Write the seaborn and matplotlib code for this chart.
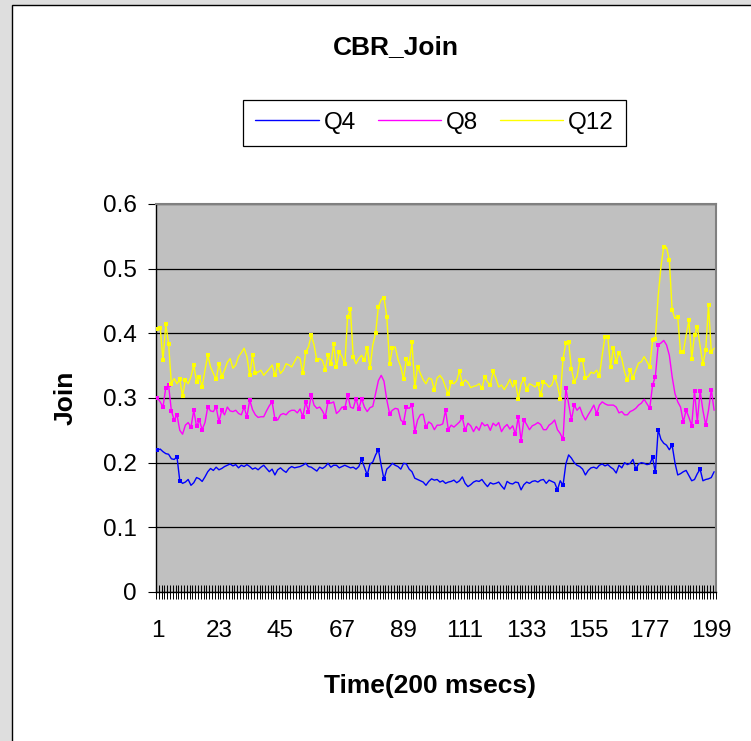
import numpy as np
import pandas as pd
import matplotlib
matplotlib.use("Agg")
import matplotlib.pyplot as plt
from matplotlib.patches import Rectangle
import seaborn as sns

# ---- data -------------------------------------------------------------
time_idx = list(range(1, 201))

q4 = [
    0.219, 0.221, 0.217, 0.214, 0.213, 0.206, 0.205, 0.209, 0.172, 0.168,
    0.170, 0.174, 0.165, 0.169, 0.177, 0.175, 0.171, 0.178, 0.186, 0.191,
    0.188, 0.193, 0.189, 0.191, 0.194, 0.196, 0.198, 0.195, 0.197, 0.192,
    0.196, 0.194, 0.197, 0.194, 0.190, 0.192, 0.189, 0.193, 0.196, 0.191,
    0.186, 0.190, 0.181, 0.189, 0.192, 0.188, 0.185, 0.191, 0.194, 0.192,
    0.193, 0.194, 0.196, 0.199, 0.194, 0.193, 0.190, 0.187, 0.193, 0.191,
    0.194, 0.199, 0.193, 0.196, 0.196, 0.192, 0.194, 0.196, 0.194, 0.192,
    0.193, 0.190, 0.194, 0.205, 0.193, 0.181, 0.198, 0.201, 0.212, 0.220,
    0.196, 0.174, 0.190, 0.194, 0.199, 0.196, 0.194, 0.190, 0.199, 0.198,
    0.190, 0.186, 0.176, 0.174, 0.172, 0.170, 0.165, 0.171, 0.175, 0.173,
    0.174, 0.170, 0.172, 0.168, 0.170, 0.171, 0.173, 0.169, 0.172, 0.178,
    0.168, 0.163, 0.166, 0.170, 0.172, 0.171, 0.174, 0.168, 0.163, 0.169,
    0.167, 0.168, 0.170, 0.164, 0.159, 0.171, 0.168, 0.167, 0.170, 0.169,
    0.158, 0.166, 0.170, 0.168, 0.171, 0.172, 0.170, 0.173, 0.174, 0.168,
    0.173, 0.171, 0.169, 0.158, 0.172, 0.165, 0.198, 0.212, 0.207, 0.200,
    0.196, 0.194, 0.190, 0.181, 0.188, 0.192, 0.193, 0.191, 0.196, 0.198,
    0.195, 0.197, 0.193, 0.190, 0.184, 0.196, 0.192, 0.200, 0.197, 0.199,
    0.205, 0.190, 0.198, 0.200, 0.199, 0.197, 0.198, 0.208, 0.185, 0.251,
    0.236, 0.230, 0.227, 0.220, 0.227, 0.200, 0.181, 0.183, 0.186, 0.188,
    0.180, 0.172, 0.174, 0.183, 0.190, 0.172, 0.174, 0.175, 0.177, 0.186,
]

q8 = [
    0.300, 0.294, 0.286, 0.316, 0.320, 0.280, 0.266, 0.274, 0.250, 0.244,
    0.258, 0.262, 0.255, 0.281, 0.256, 0.266, 0.251, 0.262, 0.286, 0.280,
    0.279, 0.286, 0.263, 0.281, 0.274, 0.286, 0.280, 0.279, 0.281, 0.276,
    0.274, 0.286, 0.271, 0.297, 0.282, 0.274, 0.270, 0.271, 0.271, 0.280,
    0.288, 0.294, 0.268, 0.266, 0.274, 0.276, 0.274, 0.279, 0.281, 0.281,
    0.277, 0.283, 0.271, 0.294, 0.279, 0.305, 0.289, 0.284, 0.286, 0.280,
    0.271, 0.294, 0.292, 0.294, 0.276, 0.280, 0.286, 0.284, 0.305, 0.286,
    0.284, 0.299, 0.283, 0.299, 0.286, 0.279, 0.285, 0.287, 0.307, 0.327,
    0.335, 0.326, 0.297, 0.276, 0.281, 0.284, 0.283, 0.266, 0.262, 0.286,
    0.284, 0.289, 0.248, 0.266, 0.274, 0.275, 0.255, 0.263, 0.260, 0.251,
    0.258, 0.258, 0.260, 0.281, 0.251, 0.258, 0.255, 0.259, 0.263, 0.270,
    0.250, 0.261, 0.257, 0.248, 0.256, 0.250, 0.262, 0.257, 0.259, 0.250,
    0.261, 0.257, 0.262, 0.248, 0.255, 0.259, 0.252, 0.257, 0.244, 0.271,
    0.234, 0.266, 0.259, 0.251, 0.257, 0.259, 0.262, 0.259, 0.251, 0.251,
    0.258, 0.261, 0.266, 0.251, 0.245, 0.236, 0.315, 0.291, 0.266, 0.289,
    0.281, 0.286, 0.274, 0.266, 0.274, 0.281, 0.289, 0.276, 0.289, 0.294,
    0.291, 0.289, 0.289, 0.289, 0.286, 0.277, 0.279, 0.274, 0.274, 0.279,
    0.281, 0.284, 0.289, 0.292, 0.298, 0.291, 0.284, 0.320, 0.333, 0.382,
    0.385, 0.389, 0.382, 0.366, 0.333, 0.307, 0.294, 0.286, 0.263, 0.281,
    0.270, 0.257, 0.311, 0.263, 0.311, 0.281, 0.258, 0.281, 0.313, 0.281,
]

q12 = [
    0.407, 0.409, 0.358, 0.414, 0.384, 0.322, 0.330, 0.322, 0.329, 0.303,
    0.328, 0.322, 0.333, 0.351, 0.325, 0.333, 0.317, 0.343, 0.366, 0.348,
    0.338, 0.329, 0.353, 0.333, 0.343, 0.355, 0.361, 0.346, 0.351, 0.364,
    0.370, 0.377, 0.364, 0.335, 0.366, 0.338, 0.340, 0.343, 0.335, 0.340,
    0.345, 0.351, 0.335, 0.351, 0.338, 0.343, 0.353, 0.351, 0.348, 0.356,
    0.364, 0.361, 0.338, 0.371, 0.379, 0.397, 0.382, 0.358, 0.361, 0.358,
    0.344, 0.366, 0.353, 0.383, 0.348, 0.371, 0.364, 0.352, 0.426, 0.437,
    0.364, 0.353, 0.361, 0.366, 0.358, 0.378, 0.346, 0.382, 0.400, 0.441,
    0.452, 0.455, 0.426, 0.352, 0.377, 0.379, 0.360, 0.348, 0.329, 0.361,
    0.352, 0.386, 0.317, 0.348, 0.338, 0.328, 0.322, 0.331, 0.329, 0.312,
    0.331, 0.335, 0.329, 0.317, 0.306, 0.325, 0.322, 0.327, 0.342, 0.322,
    0.328, 0.324, 0.316, 0.318, 0.319, 0.322, 0.315, 0.333, 0.325, 0.320,
    0.341, 0.331, 0.317, 0.320, 0.313, 0.320, 0.329, 0.317, 0.325, 0.299,
    0.322, 0.329, 0.313, 0.322, 0.320, 0.317, 0.322, 0.304, 0.325, 0.322,
    0.317, 0.320, 0.333, 0.320, 0.299, 0.361, 0.385, 0.387, 0.345, 0.325,
    0.333, 0.358, 0.358, 0.331, 0.333, 0.340, 0.338, 0.343, 0.334, 0.366,
    0.395, 0.394, 0.348, 0.378, 0.356, 0.370, 0.361, 0.340, 0.328, 0.343,
    0.331, 0.343, 0.354, 0.356, 0.364, 0.356, 0.348, 0.389, 0.392, 0.457,
    0.503, 0.534, 0.533, 0.513, 0.436, 0.423, 0.425, 0.371, 0.371, 0.397,
    0.420, 0.361, 0.397, 0.410, 0.380, 0.352, 0.374, 0.444, 0.371, 0.377,
]

series_names = ["Q4", "Q8", "Q12"]
series_colors = ["#0000FF", "#FF00FF", "#FFFF00"]
x_tick_values = [1, 23, 45, 67, 89, 111, 133, 155, 177, 199]
y_tick_values = [0, 0.1, 0.2, 0.3, 0.4, 0.5, 0.6]
y_tick_labels = ["0", "0.1", "0.2", "0.3", "0.4", "0.5", "0.6"]

# ---- style ------------------------------------------------------------
sns.set_theme(style="white")
plt.rcParams["font.family"] = ["Liberation Sans", "DejaVu Sans"]
plt.rcParams["text.color"] = "black"
plt.rcParams["axes.labelcolor"] = "black"
plt.rcParams["xtick.color"] = "black"
plt.rcParams["ytick.color"] = "black"

W, H = 751, 741
fig = plt.figure(figsize=(W / 100, H / 100), dpi=100, facecolor="#dedede")

# white chart area with a black frame
fig.patches.append(Rectangle((12 / W, -0.02), 1.0, 1 - 5 / H + 0.02,
                             transform=fig.transFigure, facecolor="white",
                             edgecolor="black", linewidth=1, zorder=-1))

ax = fig.add_axes([156 / W, 1 - 592 / H, 559.5 / W, 388 / H])
ax.set_facecolor("#c0c0c0")

df = pd.DataFrame({
    "Time": time_idx * 3,
    "Join": q4 + q8 + q12,
    "Series": [name for name in series_names for _ in time_idx],
})
palette = dict(zip(series_names, series_colors))

sns.lineplot(data=df, x="Time", y="Join", hue="Series", palette=palette,
             linewidth=1, ax=ax, legend=True, zorder=3)

# square markers on the sharper turns of each trace
for name, vals, col in zip(series_names, [q4, q8, q12], series_colors):
    v = np.asarray(vals)
    t = np.asarray(time_idx)
    bend = np.abs(2 * v[1:-1] - v[:-2] - v[2:])
    keep = np.concatenate([[True], bend > 0.022, [False]])
    sns.scatterplot(x=t[keep], y=v[keep], marker="s", s=7, color=col,
                    linewidth=0, ax=ax, legend=False, zorder=4)

# axes
ax.set_xlim(0.5, 200.5)
ax.set_ylim(0, 0.6)
ax.set_xticks(x_tick_values)
ax.set_xticklabels([str(v) for v in x_tick_values])
ax.set_xticks(np.arange(0.5, 201, 1), minor=True)
ax.tick_params(axis="x", which="major", length=0, pad=20, labelsize=17.5,
               labelcolor="black")
ax.tick_params(axis="x", which="minor", bottom=True, direction="inout",
               length=10, width=0.7, color="black")
ax.set_yticks(y_tick_values)
ax.set_yticklabels(y_tick_labels)
ax.tick_params(axis="y", which="major", left=True, direction="out", length=6,
               width=0.8, color="black", pad=8, labelsize=17.5,
               labelcolor="black")

ax.yaxis.grid(True, color="black", linewidth=0.9)
ax.xaxis.grid(False)
ax.set_axisbelow(True)

for side in ["left", "bottom"]:
    ax.spines[side].set_color("black")
    ax.spines[side].set_linewidth(1)
for side in ["top", "right"]:
    ax.spines[side].set_color("#808080")
    ax.spines[side].set_linewidth(1.5)

ax.set_xlabel("Time(200 msecs)", fontsize=19, fontweight="bold",
              color="black")
ax.set_ylabel("Join", fontsize=19, fontweight="bold", color="black")
ax.xaxis.label.set_va("center")
ax.yaxis.label.set_va("center")
ax.xaxis.set_label_coords(0.49, (592 - 686) / 388)
ax.yaxis.set_label_coords((66 - 156) / 559.5, 0.5)

fig.text(396 / W, 1 - 47 / H, "CBR_Join", ha="center", va="center",
         fontsize=19, fontweight="bold", color="black")

handles, labels = ax.get_legend_handles_labels()
leg = ax.legend(handles, labels, loc="center",
                bbox_to_anchor=(434.5 / W, 1 - 123 / H),
                bbox_transform=fig.transFigure, ncol=3, frameon=True,
                fancybox=False, framealpha=1, facecolor="white",
                edgecolor="black", fontsize=17.5, handlelength=2.6,
                handletextpad=0.2, columnspacing=0.9, borderpad=0.5)
leg.get_frame().set_linewidth(0.9)
for line in leg.get_lines():
    line.set_linewidth(1)
for txt in leg.get_texts():
    txt.set_color("black")

fig.savefig("out.png", dpi=100, facecolor=fig.get_facecolor())
